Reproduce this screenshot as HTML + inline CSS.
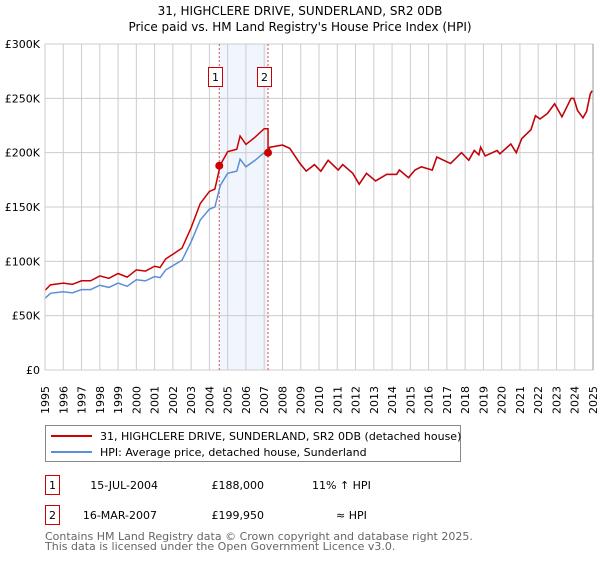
<!DOCTYPE html>
<html><head><meta charset="utf-8"><style>
body{margin:0;background:#fff;width:600px;height:560px;overflow:hidden;font-family:"DejaVu Sans","Liberation Sans",sans-serif;}
</style></head><body>
<svg id="c" width="600" height="560" xmlns="http://www.w3.org/2000/svg" font-family="DejaVu Sans, Liberation Sans, sans-serif">
<text x="300" y="15" text-anchor="middle" font-size="12">31, HIGHCLERE DRIVE, SUNDERLAND, SR2 0DB</text>
<text x="300" y="31" text-anchor="middle" font-size="12">Price paid vs. HM Land Registry's House Price Index (HPI)</text>
<g id="plot"></g>
<g>
<rect x="45.5" y="425.5" width="415" height="36" fill="#fff" stroke="#888"/>
<line x1="51" y1="436" x2="92" y2="436" stroke="#cc0000" stroke-width="2"/>
<text x="100" y="440" font-size="11">31, HIGHCLERE DRIVE, SUNDERLAND, SR2 0DB (detached house)</text>
<line x1="51" y1="452" x2="92" y2="452" stroke="#5b8fd6" stroke-width="2"/>
<text x="100" y="456" font-size="11">HPI: Average price, detached house, Sunderland</text>
</g>
<g font-size="11">
<rect x="45.5" y="475.5" width="14" height="19" fill="#fff" stroke="#cc0000"/>
<text x="52.5" y="489" text-anchor="middle">1</text>
<text x="158" y="489" text-anchor="end">15-JUL-2004</text>
<text x="264" y="489" text-anchor="end">£188,000</text>
<text x="312" y="489">11% ↑ HPI</text>
<rect x="45.5" y="505.5" width="14" height="19" fill="#fff" stroke="#cc0000"/>
<text x="52.5" y="519" text-anchor="middle">2</text>
<text x="157" y="519" text-anchor="end">16-MAR-2007</text>
<text x="264" y="519" text-anchor="end">£199,950</text>
<text x="336" y="519">≈ HPI</text>
</g>
<text x="45" y="540" font-size="11" fill="#666">Contains HM Land Registry data © Crown copyright and database right 2025.</text>
<text x="45" y="550" font-size="11" fill="#666">This data is licensed under the Open Government Licence v3.0.</text>
</svg>
<script>
const hpiYears=[1995,1995.3,1996,1996.5,1997,1997.5,1998,1998.5,1999,1999.5,2000,2000.5,2001,2001.3,2001.6,2002,2002.5,2003,2003.5,2004,2004.3,2004.6,2005,2005.5,2005.68,2006,2006.5,2007,2007.2,2007.3,2008,2008.4,2008.96,2009.3,2009.75,2010.1,2010.5,2011.05,2011.3,2011.85,2012.2,2012.6,2013.1,2013.7,2014.25,2014.4,2014.9,2015.25,2015.6,2016.2,2016.45,2017.2,2017.8,2018.2,2018.5,2018.75,2018.85,2019.1,2019.75,2019.9,2020.5,2020.8,2021.1,2021.6,2021.85,2022.1,2022.5,2022.9,2023.3,2023.8,2023.95,2024.15,2024.45,2024.65,2024.85,2024.95];
const hpiValues=[66,70.6,72,71,74,74,78,76,80,77,83,82,86,85,92,96,101,118,138,148,150,170,181,183,194,187,193,200,200,205,207,204,190,183,189,183,193,184,189,181,171,181,174,180,180,184,177,184,187,184,196,190,200,193,202,198,205,197,202,199,208,200,213,221,234,231,236,245,233,250,250,239,232,238,254,257];
const saleDates=[2004.54,2007.21];
const salePrices=[188,199.95];
const saleRatios=[1.11,1.0];
const yTicks=[0,50,100,150,200,250,300];
const yTickLabels=["£0","£50K","£100K","£150K","£200K","£250K","£300K"];
const xTicks=[1995,1996,1997,1998,1999,2000,2001,2002,2003,2004,2005,2006,2007,2008,2009,2010,2011,2012,2013,2014,2015,2016,2017,2018,2019,2020,2021,2022,2023,2024,2025];

const L=45,R=593,T=44,B=370;
const xs=t=>L+(t-1995)/30*(R-L);
const ys=v=>B-v/300*(B-T);
const NS="http://www.w3.org/2000/svg";
const g=document.getElementById('plot');
function mk(tag,attrs,parent){const e=document.createElementNS(NS,tag);for(const k in attrs)e.setAttribute(k,attrs[k]);(parent||g).appendChild(e);return e;}

const band=mk('rect',{x:xs(saleDates[0]),y:T,width:xs(saleDates[1])-xs(saleDates[0]),height:B-T,fill:'#eef3fc',opacity:0.8});


yTicks.forEach((v,i)=>{
  const l=mk('line',{x1:L,x2:R,y1:ys(v),y2:ys(v),stroke:'#ccc'});
  
  
  const t=mk('text',{x:L-5,y:ys(v)+4,'text-anchor':'end','font-size':11});
  
  
  t.textContent=yTickLabels[i];
});
xTicks.forEach(yr=>{
  const l=mk('line',{x1:xs(yr),x2:xs(yr),y1:T,y2:B,stroke:'#ccc'});
  
  
  const t=mk('text',{x:0,y:0,'font-size':11,transform:`translate(${xs(yr)+4},414) rotate(-90)`});
  
  
  t.textContent=yr;
});
saleDates.forEach(d=>{
  const l=mk('line',{x1:xs(d),x2:xs(d),y1:T,y2:B,stroke:'#e05050','stroke-dasharray':'2,2'});
  
  
});
const hp=mk('polyline',{points:hpiYears.map((t,i)=>xs(t)+','+ys(hpiValues[i])).join(' '),fill:'none',stroke:'#5b8fd6','stroke-width':1.5});


function ratioAt(t){return t<saleDates[1]?saleRatios[0]:saleRatios[1];}
let pts=[];
hpiYears.forEach((t,i)=>{
  if(t>saleDates[1]&&hpiYears[i-1]<saleDates[1]){pts.push(xs(saleDates[1])+','+ys(hpiValues[i-1]*saleRatios[0]));pts.push(xs(saleDates[1])+','+ys(salePrices[1]));}
  pts.push(xs(t)+','+ys(hpiValues[i]*ratioAt(t)));
});
const pp=mk('polyline',{points:pts.join(' '),fill:'none',stroke:'#cc0000','stroke-width':1.5});


saleDates.forEach((d,i)=>{
  const c=mk('circle',{cx:xs(d),cy:ys(salePrices[i]),r:4,fill:'#cc0000'});
  
  
  const r=mk('rect',{x:Math.round(xs(d))-10.5,y:67.5,width:14,height:19,fill:'#fff',stroke:'#cc0000'});
  
  
  const t=mk('text',{x:Math.round(xs(d))-3.5,y:81,'text-anchor':'middle','font-size':11});
  
  
  t.textContent=i+1;
});
const bx=mk('line',{x1:L,x2:L,y1:T,y2:B,stroke:'#ccc'});


const rx=mk('line',{x1:R,x2:R,y1:T,y2:B,stroke:'#999'});


</script>
</body></html>
